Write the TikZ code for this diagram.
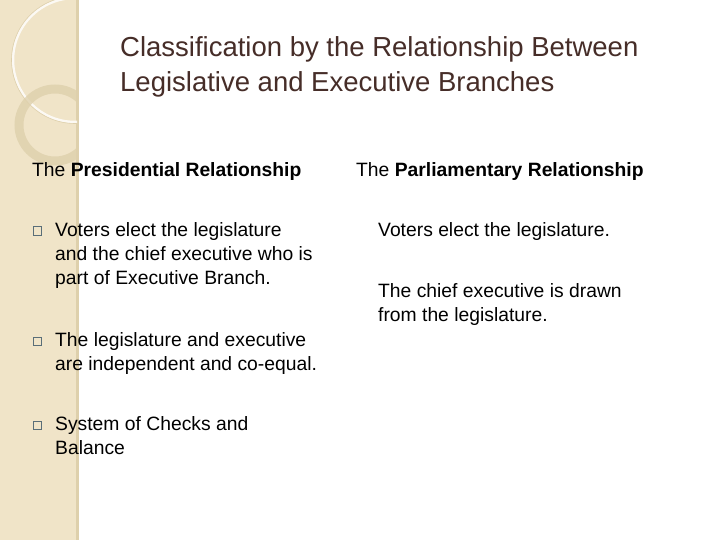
\documentclass[tikz,border=0pt]{standalone}
\usepackage{fontspec}
\setmainfont{Liberation Sans}
\definecolor{stripe}{RGB}{240,228,200}
\definecolor{ringc}{RGB}{222,208,172}
\definecolor{titlec}{RGB}{70,45,40}
\definecolor{boxc}{RGB}{90,110,120}
\begin{document}
\begin{tikzpicture}[x=1pt,y=-1pt,
  body/.style={anchor=north west,align=left,font=\fontsize{19.3}{24}\selectfont,inner sep=0pt},
  chk/.style={draw=boxc,line width=1pt,minimum size=8pt,inner sep=0pt}]
\useasboundingbox (0,0) rectangle (720,540);
\fill[white] (0,0) rectangle (720,540);
\fill[stripe] (0,0) rectangle (78,540);
\fill[ringc] (76,0) rectangle (79,540);
\begin{scope}
\clip (0,0) rectangle (77,540);
\draw[white,line width=2.5pt,opacity=0.8] (75,60) circle (62);
\draw[ringc,line width=0.6pt] (75,60) circle (63.5);
\draw[ringc,line width=9pt,opacity=0.8] (55,125) circle (36);
\end{scope}
\node[body,font=\fontsize{27.5}{35}\selectfont,text=titlec] (title) at (120,36)
 {Classification by the Relationship Between\\Legislative and Executive Branches};
\node[body] (h1) at (32,162) {The \textbf{Presidential Relationship}};
\node[body] (h2) at (356,162) {The \textbf{Parliamentary Relationship}};
\node[chk] (c1) at (37,231) {};
\node[body] (t1) at (55,222) {Voters elect the legislature\\and the chief executive who is\\part of Executive Branch.};
\node[chk] (c2) at (37,341) {};
\node[body] (t2) at (55,332) {The legislature and executive\\are independent and co-equal.};
\node[chk] (c3) at (37,425) {};
\node[body] (t3) at (55,416) {System of Checks and\\Balance};
\node[body] (p1) at (378,222) {Voters elect the legislature.};
\node[body] (p2) at (378,283) {The chief executive is drawn\\from the legislature.};
\end{tikzpicture}
\end{document}
